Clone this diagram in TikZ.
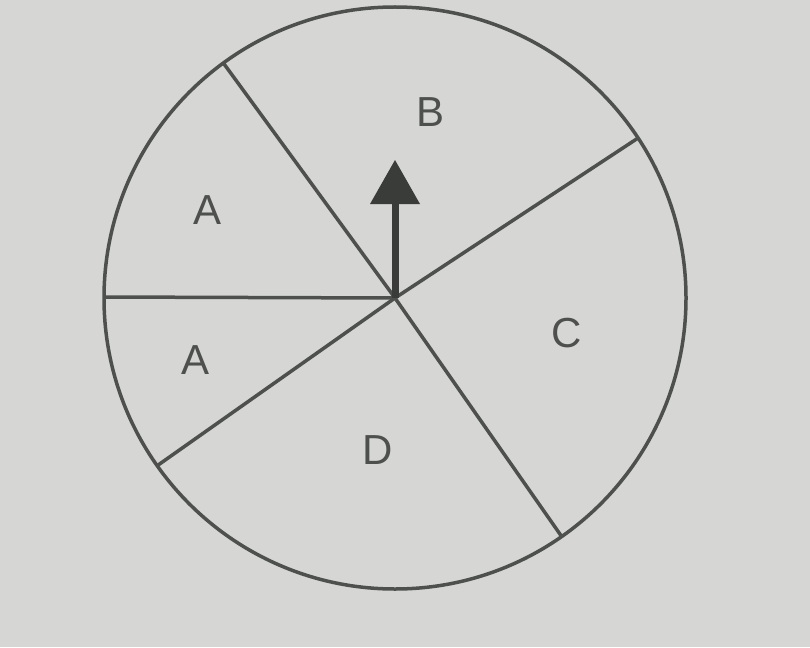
\documentclass[tikz,border=0pt]{standalone}
\usepackage{fontspec}
\usetikzlibrary{calc}
\setmainfont{Liberation Sans}
\definecolor{bg}{HTML}{D6D7D4}
\definecolor{ink}{HTML}{4E504E}
\definecolor{arr}{HTML}{3A3C3A}
\begin{document}
\begin{tikzpicture}[x=1pt,y=-1pt,
  rim/.style={draw=ink,line width=3.5pt},
  divider/.style={draw=ink,line width=3.5pt},
  sector/.style={font=\fontsize{42}{42}\selectfont,text=ink,inner sep=0pt}]
\fill[bg] (0,0) rectangle (810,647);
\useasboundingbox (0,0) rectangle (810,647);
\coordinate (O) at (395,298);
\draw[rim] (O) circle[radius=291];
\coordinate (ul0) at (227,68);
\coordinate (ur0) at (632,142);
\coordinate (ll0) at (161,463);
\coordinate (lr0) at (562,537);
\coordinate (lf0) at (104,297);
\coordinate (ul) at ($(O)!291pt!(ul0)$);
\coordinate (ur) at ($(O)!291pt!(ur0)$);
\coordinate (ll) at ($(O)!291pt!(ll0)$);
\coordinate (lr) at ($(O)!291pt!(lr0)$);
\coordinate (lf) at ($(O)!291pt!(lf0)$);
\draw[divider] (O) -- (ul);
\draw[divider] (O) -- (ur);
\draw[divider] (O) -- (ll);
\draw[divider] (O) -- (lr);
\draw[divider] (O) -- (lf);
% arrow
\coordinate (tip) at (395,160);
\coordinate (hb) at (395,204);
\draw[arr,line width=7pt] (O) -- (hb);
\fill[arr] (tip) -- (420,204) -- (370,204) -- cycle;
\node[sector] (B) at (430,112) {B};
\node[sector] (A1) at (208,210) {A};
\node[sector] (A2) at (196,360) {A};
\node[sector] (C) at (567,333) {C};
\node[sector] (D) at (378,450) {D};
\end{tikzpicture}
\end{document}
